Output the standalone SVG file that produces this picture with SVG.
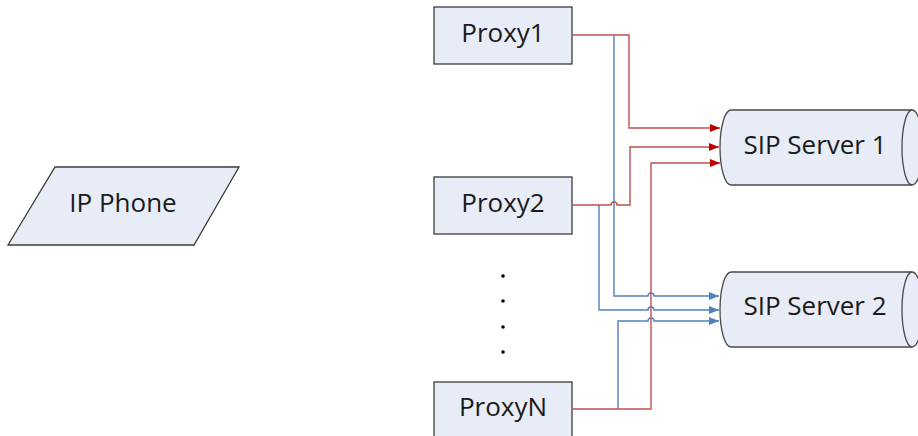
<svg xmlns="http://www.w3.org/2000/svg" width="918" height="436" viewBox="0 0 918 436">
<style>
.box{fill:#e8ecf6;stroke:#3c3c3c;stroke-width:1.3}
.cyl{fill:#e8ecf6;stroke:#4a4a4a;stroke-width:1.3}
.lbl{font-family:"Open Sans","Liberation Sans",sans-serif;font-size:26px;fill:#1a1a1a;text-anchor:middle}
.red{fill:none;stroke:#c0504d;stroke-width:1.4}
.blue{fill:none;stroke:#4f81bd;stroke-width:1.4}
</style>
<defs>
<marker id="ar" viewBox="0 0 10 8" refX="10" refY="4" markerWidth="10" markerHeight="8" markerUnits="userSpaceOnUse" orient="auto"><path d="M0,0 L10,4 L0,8 Z" fill="#c00000"/></marker>
<marker id="ab" viewBox="0 0 10 8" refX="10" refY="4" markerWidth="10" markerHeight="8" markerUnits="userSpaceOnUse" orient="auto"><path d="M0,0 L10,4 L0,8 Z" fill="#4f81bd"/></marker>
</defs>
<g id="ipphone">
<polygon class="box" points="55,167 239,167 194,245 8,245"/>
<text class="lbl" x="123" y="212">IP Phone</text>
</g>
<g id="proxy1">
<rect class="box" x="434" y="7" width="138" height="57"/>
<text class="lbl" x="503" y="42">Proxy1</text>
</g>
<g id="proxy2">
<rect class="box" x="434" y="177" width="138" height="57"/>
<text class="lbl" x="503" y="212">Proxy2</text>
</g>
<g id="dots" fill="#000">
<circle cx="503" cy="276" r="1.8"/>
<circle cx="503" cy="301" r="1.8"/>
<circle cx="503" cy="327" r="1.8"/>
<circle cx="503" cy="352" r="1.8"/>
</g>
<g id="proxyN">
<rect class="box" x="434" y="382" width="138" height="57"/>
<text class="lbl" x="503" y="416">ProxyN</text>
</g>
<g id="server1">
<path class="cyl" d="M731,110 H912 A11,37.5 0 0 1 912,185 H731 A11,37.5 0 0 1 731,110 Z"/>
<path class="cyl" fill="none" d="M912,110 A10,37.5 0 0 0 912,185"/>
<text class="lbl" x="815" y="154">SIP Server 1</text>
</g>
<g id="server2">
<path class="cyl" d="M731,272 H912 A11,37.5 0 0 1 912,347 H731 A11,37.5 0 0 1 731,272 Z"/>
<path class="cyl" fill="none" d="M912,272 A10,37.5 0 0 0 912,347"/>
<text class="lbl" x="815" y="315">SIP Server 2</text>
</g>
<g id="connectors">
<path class="blue" marker-end="url(#ab)" d="M614,35 V296 H648 a3,3 0 0 1 6,0 H719"/>
<path class="blue" marker-end="url(#ab)" d="M599,205 V310 H648 a3,3 0 0 1 6,0 H719"/>
<path class="blue" marker-end="url(#ab)" d="M618,409 V321 H648 a3,3 0 0 1 6,0 H719"/>
<path class="red" marker-end="url(#ar)" d="M572,35 H629 V128 H720"/>
<path class="red" marker-end="url(#ar)" d="M572,205 H611 a3,3 0 0 1 6,0 H630 V147 H719"/>
<path class="red" marker-end="url(#ar)" d="M572,409 H651 V163 H720"/>
</g>
</svg>
